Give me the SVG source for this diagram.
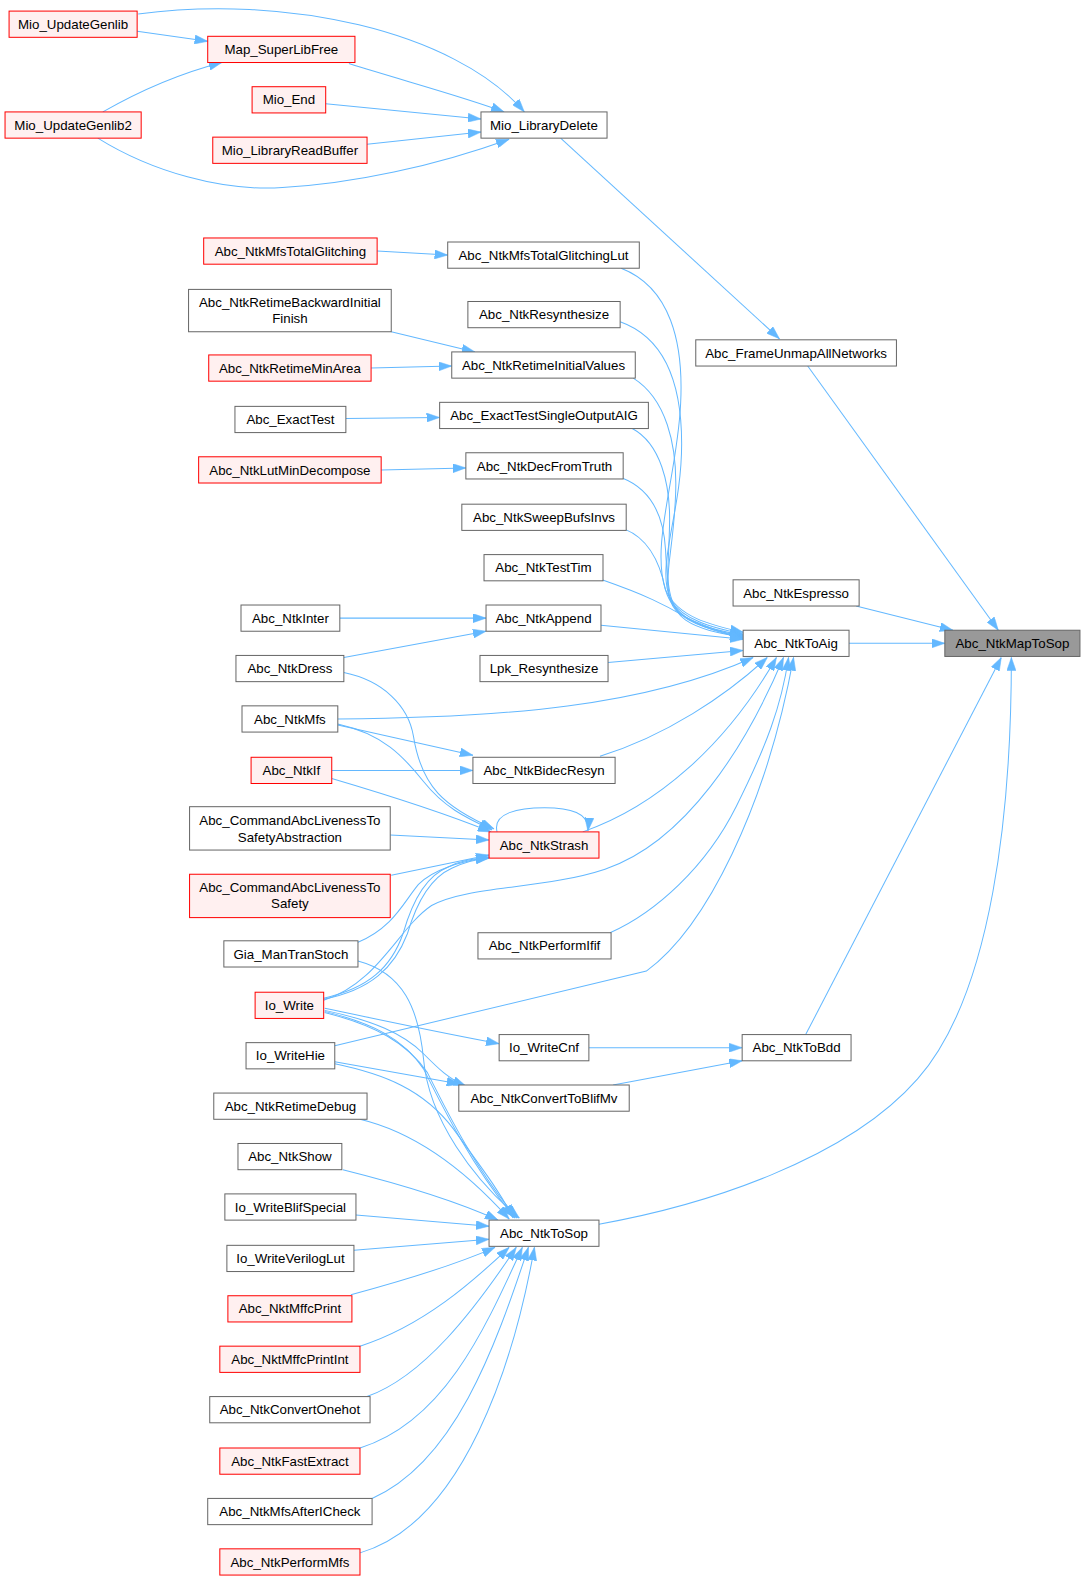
<svg xmlns="http://www.w3.org/2000/svg" width="1085" height="1581" viewBox="0 0 1085 1581">
<style>
.n rect{fill:#ffffff;stroke:#666666;stroke-width:1}
.r rect{fill:#fff0f0;stroke:#ff0000;stroke-width:1}
.root rect{fill:#999999;stroke:#666666;stroke-width:1}
text{font-family:"Liberation Sans",Arial,Helvetica,sans-serif;font-size:13.2px;text-anchor:middle;fill:#000000}
.e path{fill:none;stroke:#63b8ff;stroke-width:1;marker-end:url(#ah)}
</style>
<defs>
<marker id="ah" viewBox="0 0 13 9" refX="13" refY="4.5" markerWidth="13" markerHeight="9" markerUnits="userSpaceOnUse" orient="auto">
<path d="M0,0 L13,4.5 L0,9 z" fill="#63b8ff" stroke="#63b8ff" stroke-width="0.5"/>
</marker>
</defs>
<rect x="0" y="0" width="1085" height="1581" fill="#ffffff"/>
<g transform="scale(1.00836)">
<g id="edges" class="e">
<path d="M137,14 C280,-6 450,30 520,111"/>
<path d="M346,63 C400,80 460,96 500,111"/>
<path d="M323,103 L477,118"/>
<path d="M364,143 L477,131"/>
<path d="M97,137 C150,170 220,190 280,186 C350,182 430,165 505,138"/>
<path d="M136,31 L206,41"/>
<path d="M102,111 C130,95 170,75 220,62"/>
<path d="M556,137 L773,336"/>
<path d="M801,363 L990,625"/>
<path d="M849,601 L945,625"/>
<path d="M842,638 L937,638"/>
<path d="M799,1026 L993,652"/>
<path d="M594,1214 C700,1195 840,1150 910,1070 C985,985 1003,800 1003,652"/>
<path d="M616,266 C665,285 678,340 675,400 C672,470 645,540 660,585 C672,612 705,620 737,627"/>
<path d="M615,319 C660,335 676,380 676,440 C676,510 650,560 665,595 C678,615 705,622 737,629"/>
<path d="M628,375 C660,395 672,440 670,490 C668,550 655,580 668,600 C680,618 705,624 737,630"/>
<path d="M627,425 C655,440 665,480 664,520 C663,570 658,590 670,605 C685,620 710,626 737,631"/>
<path d="M617,474 C645,485 658,510 660,545 C662,585 665,605 680,615 C695,625 715,628 737,632"/>
<path d="M620,525 C645,535 655,560 660,585 C667,610 690,622 737,633"/>
<path d="M597,575 C640,590 660,600 680,612 C700,622 720,628 737,634"/>
<path d="M596,620 L737,634"/>
<path d="M603,657 L737,645"/>
<path d="M335,713 C500,712 640,700 747,652"/>
<path d="M595,750 C660,730 720,690 761,652"/>
<path d="M578,825 C650,800 720,740 770,652"/>
<path d="M321,992 C375,975 395,920 428,898 C465,878 540,882 600,862 C680,835 740,740 777,652"/>
<path d="M605,925 C650,905 700,860 730,800 C760,740 775,700 782,652"/>
<path d="M332,1037 L641,963 C700,920 760,800 787,652"/>
<path d="M337,613 L482,613"/>
<path d="M341,652 L482,626"/>
<path d="M335,719 L469,749"/>
<path d="M329,764 L469,764"/>
<path d="M341,667 C380,675 405,700 410,730 C418,780 440,800 490,822"/>
<path d="M335,718 C380,728 400,750 420,775 C440,800 460,810 488,823"/>
<path d="M329,772 C390,790 450,810 487,825"/>
<path d="M387,828 L485,833"/>
<path d="M388,868 L485,848"/>
<path d="M354,935 C390,920 400,895 415,877 C430,862 455,855 485,850"/>
<path d="M321,990 C365,980 388,960 400,925 C410,890 424,868 444,860 C458,853 472,851 485,851"/>
<path d="M321,991 C367,982 391,960 404,926 C414,892 428,870 448,861 C461,855 474,852 485,851"/>
<path d="M493,825 C488,806 515,801 540,801 C565,801 585,806 583,824"/>
<path d="M584,1039 L736,1039"/>
<path d="M608,1076 L736,1052"/>
<path d="M322,1000 C380,1012 440,1025 495,1035"/>
<path d="M322,1002 C370,1012 400,1025 420,1045 C435,1060 445,1070 462,1077"/>
<path d="M332,1053 L456,1075"/>
<path d="M355,953 C400,965 415,1000 420,1050 C425,1110 470,1170 515,1208"/>
<path d="M322,1003 C370,1015 400,1030 420,1060 C440,1100 470,1160 511,1208"/>
<path d="M322,1004 C372,1017 404,1034 424,1064 C444,1104 474,1164 513,1208"/>
<path d="M332,1055 C380,1065 420,1080 450,1120 C475,1155 495,1180 509,1208"/>
<path d="M357,1110 C420,1125 470,1170 505,1209"/>
<path d="M340,1160 C400,1175 450,1190 494,1210"/>
<path d="M353,1205 L485,1216"/>
<path d="M351,1240 L485,1229"/>
<path d="M348,1284 C400,1270 450,1255 491,1237"/>
<path d="M357,1335 C420,1315 470,1270 505,1237"/>
<path d="M364,1385 C420,1365 470,1300 512,1237"/>
<path d="M357,1436 C440,1410 480,1320 518,1237"/>
<path d="M369,1486 C450,1450 490,1340 524,1237"/>
<path d="M357,1540 C460,1510 510,1350 530,1237"/>
<path d="M374,249 L444,253"/>
<path d="M388,329 L471,349"/>
<path d="M368,365 L448,363"/>
<path d="M343,415 L436,414"/>
<path d="M378,466 L462,464"/>
</g>
<g id="n1" class="r"><rect x="9" y="11" width="127" height="26"/><text x="72.5" y="28.6">Mio_UpdateGenlib</text></g>
<g id="n2" class="r"><rect x="206" y="36" width="146" height="26"/><text x="279" y="53.6">Map_SuperLibFree</text></g>
<g id="n3" class="r"><rect x="250" y="86" width="73" height="26"/><text x="286.5" y="103.6">Mio_End</text></g>
<g id="n4" class="r"><rect x="5" y="111" width="135" height="26"/><text x="72.5" y="128.6">Mio_UpdateGenlib2</text></g>
<g id="n5" class="r"><rect x="211" y="136" width="153" height="26"/><text x="287.5" y="153.6">Mio_LibraryReadBuffer</text></g>
<g id="n6" class="n"><rect x="477" y="111" width="125" height="26"/><text x="539.5" y="128.6">Mio_LibraryDelete</text></g>
<g id="n7" class="r"><rect x="202" y="236" width="172" height="26"/><text x="288" y="253.6">Abc_NtkMfsTotalGlitching</text></g>
<g id="n8" class="n"><rect x="444" y="240" width="190" height="26"/><text x="539" y="257.6">Abc_NtkMfsTotalGlitchingLut</text></g>
<g id="n9" class="n"><rect x="187" y="287" width="201" height="42"/><text x="287.5" y="304.5">Abc_NtkRetimeBackwardInitial</text><text x="287.5" y="320">Finish</text></g>
<g id="n10" class="n"><rect x="464" y="299" width="151" height="26"/><text x="539.5" y="316.6">Abc_NtkResynthesize</text></g>
<g id="n11" class="r"><rect x="207" y="352" width="161" height="26"/><text x="287.5" y="369.6">Abc_NtkRetimeMinArea</text></g>
<g id="n12" class="n"><rect x="448" y="349" width="182" height="26"/><text x="539" y="366.6">Abc_NtkRetimeInitialValues</text></g>
<g id="n13" class="n"><rect x="690" y="337" width="199" height="26"/><text x="789.5" y="354.6">Abc_FrameUnmapAllNetworks</text></g>
<g id="n14" class="n"><rect x="233" y="403" width="110" height="26"/><text x="288" y="420.6">Abc_ExactTest</text></g>
<g id="n15" class="n"><rect x="436" y="399" width="207" height="26"/><text x="539.5" y="416.6">Abc_ExactTestSingleOutputAIG</text></g>
<g id="n16" class="r"><rect x="197" y="453" width="181" height="26"/><text x="287.5" y="470.6">Abc_NtkLutMinDecompose</text></g>
<g id="n17" class="n"><rect x="462" y="449" width="156" height="26"/><text x="540" y="466.6">Abc_NtkDecFromTruth</text></g>
<g id="n18" class="n"><rect x="458" y="500" width="163" height="26"/><text x="539.5" y="517.6">Abc_NtkSweepBufsInvs</text></g>
<g id="n19" class="n"><rect x="480" y="550" width="118" height="26"/><text x="539" y="567.6">Abc_NtkTestTim</text></g>
<g id="n20" class="n"><rect x="727" y="575" width="125" height="26"/><text x="789.5" y="592.6">Abc_NtkEspresso</text></g>
<g id="n21" class="n"><rect x="239" y="600" width="98" height="26"/><text x="288" y="617.6">Abc_NtkInter</text></g>
<g id="n22" class="n"><rect x="482" y="600" width="114" height="26"/><text x="539" y="617.6">Abc_NtkAppend</text></g>
<g id="n23" class="n"><rect x="737" y="625" width="105" height="26"/><text x="789.5" y="642.6">Abc_NtkToAig</text></g>
<g id="n24" class="root"><rect x="937" y="625" width="134" height="26"/><text x="1004" y="642.6">Abc_NtkMapToSop</text></g>
<g id="n25" class="n"><rect x="234" y="650" width="107" height="26"/><text x="287.5" y="667.6">Abc_NtkDress</text></g>
<g id="n26" class="n"><rect x="476" y="650" width="127" height="26"/><text x="539.5" y="667.6">Lpk_Resynthesize</text></g>
<g id="n27" class="n"><rect x="240" y="700" width="95" height="26"/><text x="287.5" y="717.6">Abc_NtkMfs</text></g>
<g id="n28" class="r"><rect x="249" y="751" width="80" height="26"/><text x="289" y="768.6">Abc_NtkIf</text></g>
<g id="n29" class="n"><rect x="469" y="751" width="141" height="26"/><text x="539.5" y="768.6">Abc_NtkBidecResyn</text></g>
<g id="n30" class="n"><rect x="188" y="800" width="199" height="43"/><text x="287.5" y="818.5">Abc_CommandAbcLivenessTo</text><text x="287.5" y="835">SafetyAbstraction</text></g>
<g id="n31" class="r"><rect x="485" y="825" width="109" height="26"/><text x="539.5" y="842.6">Abc_NtkStrash</text></g>
<g id="n32" class="r"><rect x="188" y="867" width="199" height="43"/><text x="287.5" y="884.6">Abc_CommandAbcLivenessTo</text><text x="287.5" y="900.4">Safety</text></g>
<g id="n33" class="n"><rect x="222" y="933" width="133" height="26"/><text x="288.5" y="950.6">Gia_ManTranStoch</text></g>
<g id="n34" class="n"><rect x="474" y="925" width="132" height="26"/><text x="540" y="942.6">Abc_NtkPerformIfif</text></g>
<g id="n35" class="r"><rect x="253" y="984" width="68" height="26"/><text x="287" y="1001.6">Io_Write</text></g>
<g id="n36" class="n"><rect x="495" y="1026" width="89" height="26"/><text x="539.5" y="1043.6">Io_WriteCnf</text></g>
<g id="n37" class="n"><rect x="736" y="1026" width="108" height="26"/><text x="790" y="1043.6">Abc_NtkToBdd</text></g>
<g id="n38" class="n"><rect x="244" y="1034" width="88" height="26"/><text x="288" y="1051.6">Io_WriteHie</text></g>
<g id="n39" class="n"><rect x="455" y="1076" width="169" height="26"/><text x="539.5" y="1093.6">Abc_NtkConvertToBlifMv</text></g>
<g id="n40" class="n"><rect x="212" y="1084" width="152" height="26"/><text x="288" y="1101.6">Abc_NtkRetimeDebug</text></g>
<g id="n41" class="n"><rect x="236" y="1134" width="103" height="26"/><text x="287.5" y="1151.6">Abc_NtkShow</text></g>
<g id="n42" class="n"><rect x="223" y="1184" width="130" height="26"/><text x="288" y="1201.6">Io_WriteBlifSpecial</text></g>
<g id="n43" class="n"><rect x="485" y="1210" width="109" height="26"/><text x="539.5" y="1227.6">Abc_NtkToSop</text></g>
<g id="n44" class="n"><rect x="225" y="1235" width="126" height="26"/><text x="288" y="1252.6">Io_WriteVerilogLut</text></g>
<g id="n45" class="r"><rect x="226" y="1285" width="123" height="26"/><text x="287.5" y="1302.6">Abc_NktMffcPrint</text></g>
<g id="n46" class="r"><rect x="218" y="1335" width="139" height="26"/><text x="287.5" y="1352.6">Abc_NktMffcPrintInt</text></g>
<g id="n47" class="n"><rect x="208" y="1385" width="159" height="26"/><text x="287.5" y="1402.6">Abc_NtkConvertOnehot</text></g>
<g id="n48" class="r"><rect x="218" y="1436" width="139" height="26"/><text x="287.5" y="1453.6">Abc_NtkFastExtract</text></g>
<g id="n49" class="n"><rect x="206" y="1486" width="163" height="26"/><text x="287.5" y="1503.6">Abc_NtkMfsAfterICheck</text></g>
<g id="n50" class="r"><rect x="218" y="1536" width="139" height="26"/><text x="287.5" y="1553.6">Abc_NtkPerformMfs</text></g>
</g>
</svg>
